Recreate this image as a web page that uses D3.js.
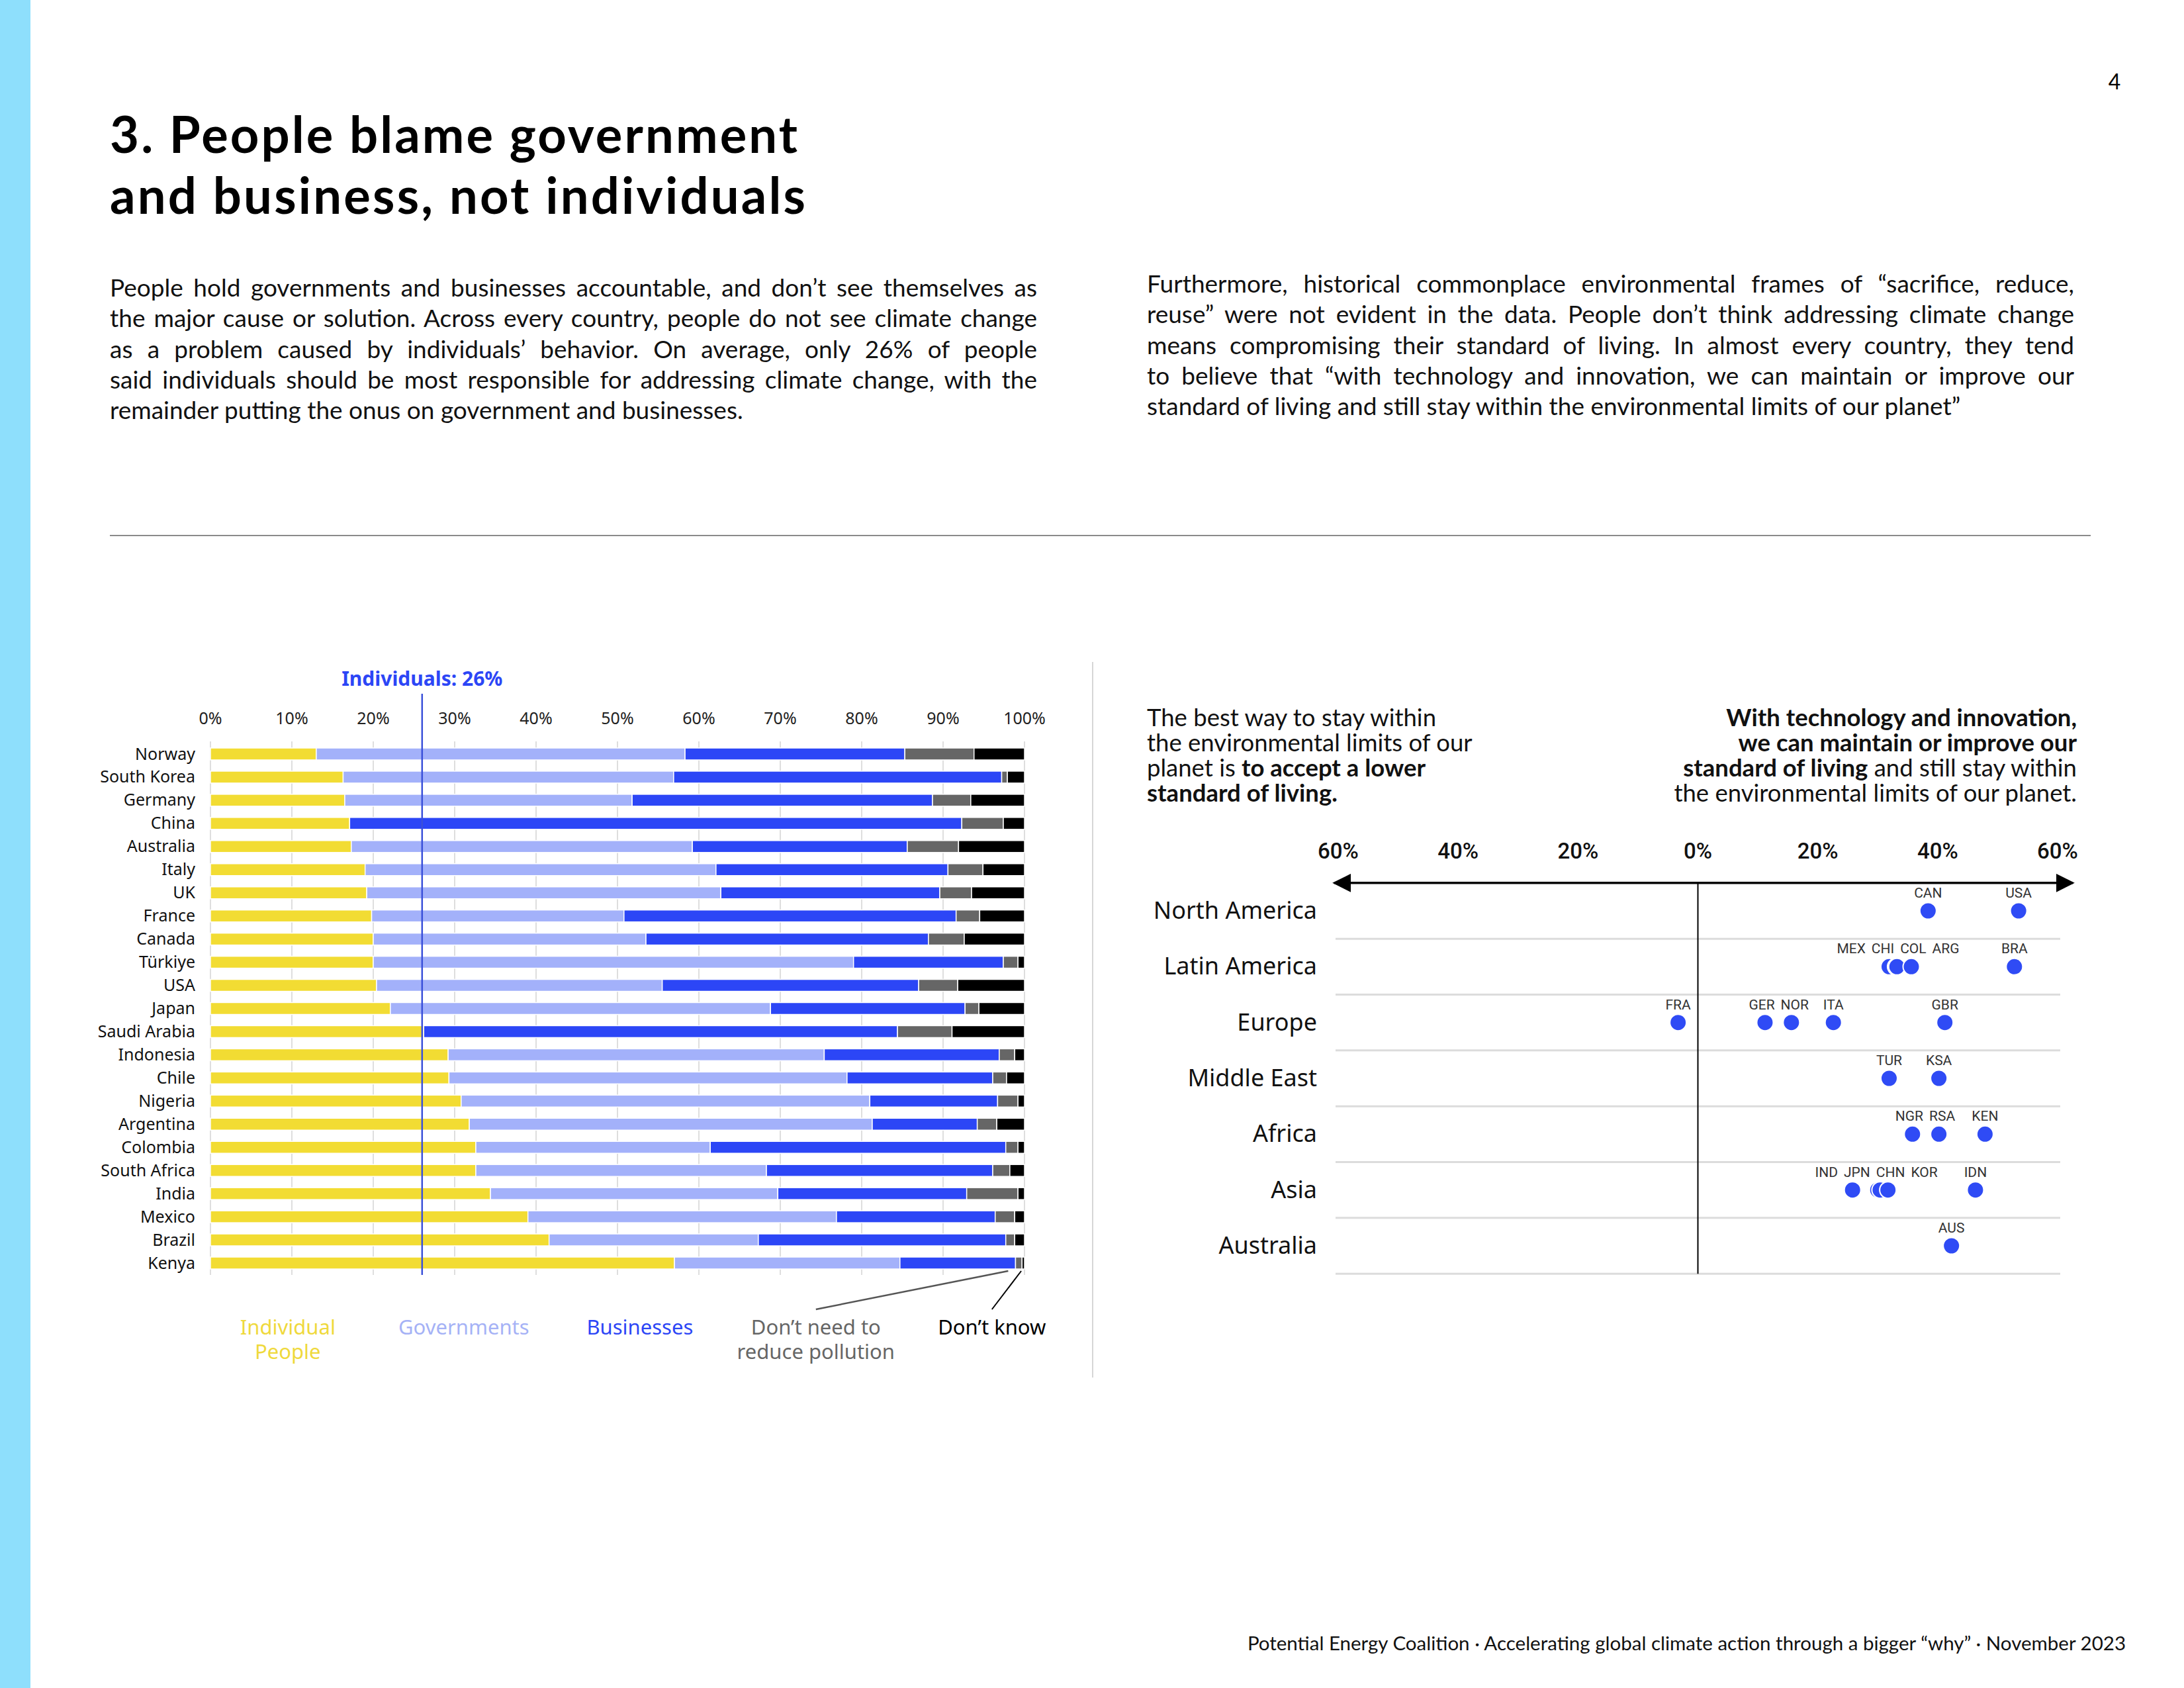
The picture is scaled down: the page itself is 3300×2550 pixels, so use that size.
<!DOCTYPE html>
<html>
<head>
<meta charset="utf-8">
<script src="https://cdn.jsdelivr.net/npm/d3@7"></script>
<style>
  body { margin: 0; background: #fff; }
  svg { display: block; }
</style>
</head>
<body>
<svg id="page" width="3300" height="2550"></svg>
<script>
// ---- bar chart data (share of people, %) ----
const countries = ["Norway", "South Korea", "Germany", "China", "Australia", "Italy", "UK", "France", "Canada", "Türkiye", "USA", "Japan", "Saudi Arabia", "Indonesia", "Chile", "Nigeria", "Argentina", "Colombia", "South Africa", "India", "Mexico", "Brazil", "Kenya"];
const individuals = [13.0, 16.3, 16.5, 17.1, 17.3, 19.0, 19.2, 19.8, 20.0, 20.0, 20.4, 22.1, 26.2, 29.2, 29.3, 30.8, 31.8, 32.6, 32.6, 34.4, 39.0, 41.6, 57.0];
const governments = [45.3, 40.6, 35.3, 0, 41.9, 43.1, 43.5, 31.0, 33.5, 59.0, 35.1, 46.7, 0, 46.2, 48.9, 50.2, 49.5, 28.8, 35.7, 35.3, 37.9, 25.7, 27.7];
const businesses = [27.0, 40.3, 36.9, 75.2, 26.4, 28.5, 26.9, 40.8, 34.7, 18.4, 31.5, 23.9, 58.2, 21.5, 17.9, 15.7, 12.9, 36.3, 27.8, 23.2, 19.5, 30.4, 14.2];
const noNeed = [8.5, 0.7, 4.7, 5.1, 6.3, 4.3, 3.9, 2.9, 4.4, 1.8, 4.8, 1.7, 6.7, 1.9, 1.7, 2.5, 2.4, 1.5, 2.1, 6.3, 2.4, 1.1, 0.8];
const dontKnow = [6.2, 2.1, 6.6, 2.6, 8.1, 5.1, 6.5, 5.5, 7.4, 0.8, 8.2, 5.6, 8.9, 1.2, 2.2, 0.8, 3.4, 0.8, 1.8, 0.8, 1.2, 1.2, 0.3];
const barTicks = [0, 10, 20, 30, 40, 50, 60, 70, 80, 90, 100];
const averageIndividuals = 26;
const seriesKeys = ["individuals", "governments", "businesses", "noNeed", "dontKnow"];
const seriesLabels = ["Individual\nPeople", "Governments", "Businesses", "Don’t need to\nreduce pollution", "Don’t know"];
const seriesColors = ["#f2dc33", "#a3b1fa", "#2c46f6", "#666666", "#000000"];
const legendColors = ["#efd93c", "#a5b2f6", "#2c46f6", "#666666", "#000000"];

// ---- dot chart data (net % for "technology" vs "lower standard") ----
const regions = ["North America", "Latin America", "Europe", "Middle East", "Africa", "Asia", "Australia"];
const dotCodes = ["CAN", "USA", "MEX", "CHI", "COL", "ARG", "BRA", "FRA", "GER", "NOR", "ITA", "GBR", "TUR", "KSA", "NGR", "RSA", "KEN", "IND", "JPN", "CHN", "KOR", "IDN", "AUS"];
const dotRegion = ["North America", "North America", "Latin America", "Latin America", "Latin America", "Latin America", "Latin America", "Europe", "Europe", "Europe", "Europe", "Europe", "Middle East", "Middle East", "Africa", "Africa", "Africa", "Asia", "Asia", "Asia", "Asia", "Asia", "Australia"];
const dotValues = [38.4, 53.5, 31.9, 33.0, 33.2, 35.6, 52.8, -3.3, 11.2, 15.6, 22.6, 41.2, 31.9, 40.2, 35.8, 40.2, 47.9, 25.8, 30.0, 30.4, 31.7, 46.3, 42.3];
const dotTicks = [-60, -40, -20, 0, 20, 40, 60];

// ---- page text ----
const titleLines = ["3. People blame government", "and business, not individuals"];
const leftPara = [
  "People hold governments and businesses accountable, and don’t see themselves as",
  "the major cause or solution. Across every country, people do not see climate change",
  "as a problem caused by individuals’ behavior. On average, only 26% of people",
  "said individuals should be most responsible for addressing climate change, with the",
  "remainder putting the onus on government and businesses."
];
const rightPara = [
  "Furthermore, historical commonplace environmental frames of “sacrifice, reduce,",
  "reuse” were not evident in the data. People don’t think addressing climate change",
  "means compromising their standard of living. In almost every country, they tend",
  "to believe that “with technology and innovation, we can maintain or improve our",
  "standard of living and still stay within the environmental limits of our planet”"
];
const leftHead = [
  [["The best way to stay within", false]],
  [["the environmental limits of our", false]],
  [["planet is ", false], ["to accept a lower", true]],
  [["standard of living.", true]]
];
const rightHead = [
  [["With technology and innovation,", true]],
  [["we can maintain or improve our", true]],
  [["standard of living", true], [" and still stay within", false]],
  [["the environmental limits of our planet.", false]]
];
const footer = "Potential Energy Coalition · Accelerating global climate action through a bigger “why” · November 2023";

const svg = d3.select("#page");
const BODY = "Lato, 'Noto Sans', sans-serif";
const CHART = "'Noto Sans', 'DejaVu Sans', sans-serif";

// ---- page frame ----
svg.append("rect").attr("x", 0).attr("y", 0).attr("width", 46).attr("height", 2550).attr("fill", "#8edffc");
svg.append("text").attr("x", 3195).attr("y", 135).attr("text-anchor", "middle")
  .style("font-family", BODY).style("font-size", "32px").text("4");

// title: two lines, font kept small enough that the line boxes don't collide,
// then spread to the width the reference lines take
const titleWidths = [1039, 1051];
const title = svg.append("g").style("font-family", BODY).style("font-weight", 700)
  .style("font-size", "76px").attr("fill", "#000");
titleLines.forEach((t, i) => {
  title.append("text").attr("x", 166).attr("y", 231 + i * 92)
    .attr("textLength", titleWidths[i]).attr("lengthAdjust", "spacing").text(t);
});

// justified paragraphs (last line left as is)
const drawPara = (lines, x, y0, width) => {
  const g = svg.append("g").style("font-family", BODY).style("font-size", "37px").attr("fill", "#111");
  lines.forEach((line, i) => {
    const t = g.append("text").attr("x", x).attr("y", y0 + i * 46.3).text(line);
    if (i === lines.length - 1) return;
    const natural = t.node().getComputedTextLength();
    const gaps = line.split(" ").length - 1;
    t.style("word-spacing", ((width - natural) / gaps) + "px");
  });
};
drawPara(leftPara, 166, 448, 1401);
drawPara(rightPara, 1733, 442, 1401);

svg.append("line").attr("x1", 166).attr("x2", 3159).attr("y1", 809).attr("y2", 809)
  .attr("stroke", "#8a8a8a").attr("stroke-width", 2);
svg.append("line").attr("x1", 1651).attr("x2", 1651).attr("y1", 1000).attr("y2", 2081)
  .attr("stroke", "#d6d6d6").attr("stroke-width", 2);

svg.append("text").attr("x", 3212).attr("y", 2493).attr("text-anchor", "end")
  .style("font-family", BODY).style("font-size", "29.5px").attr("fill", "#111").text(footer);

// ================= bar chart =================
const rows = countries.map((c, i) => ({
  country: c,
  individuals: individuals[i], governments: governments[i], businesses: businesses[i],
  noNeed: noNeed[i], dontKnow: dontKnow[i]
}));
const stacked = d3.stack().keys(seriesKeys)(rows);

const x = d3.scaleLinear().domain([0, 100]).range([318, 1548]);
const y = d3.scalePoint().domain(countries).range([1139, 1908]);
const barH = 18;

const bars = svg.append("g");

// grid
bars.append("g").selectAll("line").data(barTicks).join("line")
  .attr("x1", d => x(d)).attr("x2", d => x(d))
  .attr("y1", 1120).attr("y2", 1926)
  .attr("stroke", "#dedede").attr("stroke-width", 2);

bars.append("g").selectAll("text").data(barTicks).join("text")
  .attr("x", d => x(d)).attr("y", 1094).attr("text-anchor", "middle")
  .style("font-family", CHART).style("font-size", "25px").attr("fill", "#222")
  .text(d => d + "%");

stacked.forEach((s, k) => {
  bars.append("g").attr("fill", seriesColors[k]).selectAll("rect").data(s).join("rect")
    .attr("x", d => x(d[0]))
    .attr("y", d => y(d.data.country) - barH / 2)
    .attr("width", d => Math.max(0, x(d[1]) - x(d[0])))
    .attr("height", barH)
    .attr("stroke", "#fff").attr("stroke-width", 1.5);
});

bars.append("g").selectAll("text").data(countries).join("text")
  .attr("x", 295).attr("y", d => y(d) + 8.5).attr("text-anchor", "end")
  .style("font-family", CHART).style("font-size", "25px").attr("fill", "#111")
  .text(d => d);

// average line for individuals
bars.append("line")
  .attr("x1", x(averageIndividuals)).attr("x2", x(averageIndividuals))
  .attr("y1", 1048).attr("y2", 1926)
  .attr("stroke", "#3a50d9").attr("stroke-width", 2.5);
bars.append("text").attr("x", x(averageIndividuals)).attr("y", 1036).attr("text-anchor", "middle")
  .style("font-family", CHART).style("font-size", "30px").style("font-weight", 700)
  .attr("fill", "#2c46f6").text("Individuals: " + averageIndividuals + "%");

// legend
const lx = d3.scalePoint().domain(seriesKeys).range([x(9.5), x(96)]);
seriesKeys.forEach((k, i) => {
  const t = bars.append("text").attr("x", lx(k)).attr("y", 2016).attr("text-anchor", "middle")
    .style("font-family", CHART).style("font-size", "31px").attr("fill", legendColors[i]);
  seriesLabels[i].split("\n").forEach((part, j) => {
    t.append("tspan").attr("x", lx(k)).attr("dy", j === 0 ? 0 : 37).text(part);
  });
});
// leader lines from the last bar to the two small categories
const lastRow = y(countries[countries.length - 1]) + barH / 2 + 3;
bars.append("line").attr("x1", x(98)).attr("y1", lastRow).attr("x2", lx("noNeed")).attr("y2", 1978)
  .attr("stroke", "#555").attr("stroke-width", 2.5);
bars.append("line").attr("x1", x(99.6)).attr("y1", lastRow).attr("x2", lx("dontKnow")).attr("y2", 1978)
  .attr("stroke", "#000").attr("stroke-width", 2);

// ================= dot chart =================
const dg = svg.append("g");

const headL = dg.append("g").style("font-family", BODY).style("font-size", "36.5px").attr("fill", "#111");
leftHead.forEach((segs, i) => {
  const t = headL.append("text").attr("x", 1733).attr("y", 1097 + i * 38);
  segs.forEach(s => t.append("tspan").style("font-weight", s[1] ? 700 : 400).text(s[0]));
});
const headR = dg.append("g").style("font-family", BODY).style("font-size", "36.5px").attr("fill", "#111");
rightHead.forEach((segs, i) => {
  const t = headR.append("text").attr("x", 3138).attr("y", 1097 + i * 38).attr("text-anchor", "end");
  segs.forEach(s => t.append("tspan").style("font-weight", s[1] ? 700 : 400).text(s[0]));
});

const dx = d3.scaleLinear().domain([-60, 60]).range([2022, 3109]);
const dy = d3.scalePoint().domain(regions).range([1376, 1882]);
const rowStep = dy.step();
const axisY = dy(regions[0]) - rowStep / 2;
const bottomY = dy(regions[regions.length - 1]) + rowStep / 2;

dg.append("g").selectAll("text").data(dotTicks).join("text")
  .attr("x", d => dx(d)).attr("y", 1297).attr("text-anchor", "middle")
  .style("font-family", "Roboto, sans-serif").style("font-size", "33px").style("font-weight", 500)
  .attr("fill", "#111").text(d => Math.abs(d) + "%");

// row separators
dg.append("g").selectAll("line").data(regions).join("line")
  .attr("x1", 2018).attr("x2", dx(60) + 4)
  .attr("y1", d => dy(d) + rowStep / 2).attr("y2", d => dy(d) + rowStep / 2)
  .attr("stroke", "#dcdcdc").attr("stroke-width", 3);

// double-headed arrow
const defs = svg.append("defs");
defs.append("marker").attr("id", "arrow").attr("viewBox", "0 0 10 10")
  .attr("refX", 9).attr("refY", 5).attr("markerWidth", 8).attr("markerHeight", 8)
  .attr("orient", "auto-start-reverse")
  .append("path").attr("d", "M0,0 L10,5 L0,10 z").attr("fill", "#000");
dg.append("line").attr("x1", 2016).attr("x2", 3132).attr("y1", axisY).attr("y2", axisY)
  .attr("stroke", "#000").attr("stroke-width", 3.5)
  .attr("marker-start", "url(#arrow)").attr("marker-end", "url(#arrow)");
dg.append("line").attr("x1", dx(0)).attr("x2", dx(0)).attr("y1", axisY).attr("y2", bottomY)
  .attr("stroke", "#000").attr("stroke-width", 2);

dg.append("g").selectAll("text").data(regions).join("text")
  .attr("x", 1990).attr("y", d => dy(d) + 12).attr("text-anchor", "end")
  .style("font-family", CHART).style("font-size", "36px").attr("fill", "#111")
  .text(d => d);

const dots = dotCodes.map((c, i) => ({ code: c, region: dotRegion[i], value: dotValues[i] }));

dg.append("g").selectAll("circle").data(dots).join("circle")
  .attr("cx", d => dx(d.value)).attr("cy", d => dy(d.region))
  .attr("r", 12.5).attr("fill", "#2f4bf5").attr("stroke", "#fff").attr("stroke-width", 2);

// country code labels, pushed apart where they collide
const labels = dg.append("g").style("font-family", "Roboto, sans-serif").style("font-size", "21px").attr("fill", "#333");
regions.forEach(r => {
  const items = dots.filter(d => d.region === r).sort((a, b) => a.value - b.value);
  items.forEach(d => {
    d.node = labels.append("text").attr("y", dy(r) - 20).attr("text-anchor", "middle").text(d.code);
    d.w = d.node.node().getComputedTextLength();
    d.lx = dx(d.value);
  });
  for (let it = 0; it < 300; it++) {
    let moved = false;
    for (let i = 0; i < items.length - 1; i++) {
      const a = items[i], b = items[i + 1];
      const need = (a.w + b.w) / 2 + 9 - (b.lx - a.lx);
      if (need > 0.1) { a.lx -= need / 2; b.lx += need / 2; moved = true; }
    }
    if (!moved) break;
  }
  items.forEach(d => d.node.attr("x", d.lx));
});
</script>
</body>
</html>
